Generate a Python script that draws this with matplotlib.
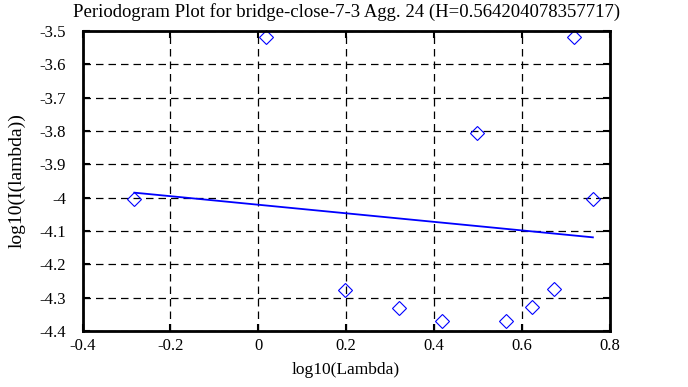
import matplotlib
matplotlib.use("Agg")
import matplotlib.pyplot as plt

# periodogram points (log10 lambda, log10 I(lambda))
log_lambda = [-0.282, 0.018, 0.198, 0.321, 0.418, 0.499, 0.565, 0.624, 0.673, 0.720, 0.762]
log_power = [-4.005, -3.517, -4.277, -4.330, -4.370, -3.807, -4.370, -4.329, -4.275, -3.517, -4.005]

# least squares fit, endpoints
fit_x = [-0.282, 0.762]
fit_y = [-3.985, -4.119]

title = "Periodogram Plot for bridge-close-7-3 Agg. 24 (H=0.564204078357717)"
xticks = [-0.4, -0.2, 0, 0.2, 0.4, 0.6, 0.8]
yticks = [-4.4, -4.3, -4.2, -4.1, -4, -3.9, -3.8, -3.7, -3.6, -3.5]

plt.rcParams['font.family'] = ['Liberation Serif', 'DejaVu Serif']
plt.rcParams['font.size'] = 12

fig = plt.figure(figsize=(6.88, 3.87), dpi=100)
ax = fig.add_axes([0.12, 0.1447, 0.766, 0.7752])

ax.plot(log_lambda, log_power, linestyle='none', marker='D', markersize=7.5,
        markerfacecolor='none', markeredgecolor='blue', markeredgewidth=0.8, clip_on=False)
ax.plot(fit_x, fit_y, color='blue', linewidth=1.3)

ax.set_xlim(-0.4, 0.8)
ax.set_ylim(-4.4, -3.5)
ax.set_xticks(xticks)
ax.set_xticklabels([("%g" % t) for t in xticks])
ax.set_yticks(yticks)
ax.set_yticklabels([("%g" % t) for t in yticks])

ax.grid(True, color='black', linestyle=(0, (6, 4)), linewidth=0.9)
ax.tick_params(direction='in', length=5, width=1.5, top=True, right=True)
ax.tick_params(axis='x', pad=5)
ax.tick_params(axis='y', pad=12)
for s in ax.spines.values():
    s.set_linewidth(2)

ax.set_title(title, fontsize=13.5, pad=10)
ax.set_xlabel("log10(Lambda)", fontsize=12.5, labelpad=6)
ax.set_ylabel("log10(I(lambda))", fontsize=14, labelpad=10)

fig.savefig("out.png", dpi=100)
